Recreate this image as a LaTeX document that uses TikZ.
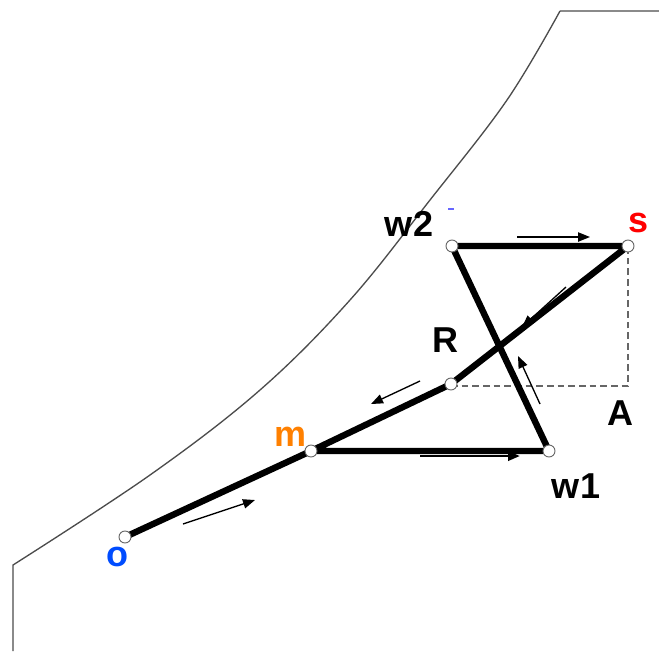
\documentclass[tikz,border=0pt]{standalone}
\usepackage{fontspec}
\setmainfont{Liberation Sans}
\usetikzlibrary{arrows.meta}
\begin{document}
\begin{tikzpicture}[x=0.75pt,y=-0.75pt,
  thickseg/.style={line width=4.8pt,line join=round,line cap=round},
  pt/.style={circle,draw=black!60,fill=white,line width=0.7pt,minimum size=9pt,inner sep=0pt},
  hint/.style={line width=1pt,-{Triangle[length=9pt,width=7pt]}},
  lab/.style={font=\bfseries\fontsize{27}{30}\selectfont,inner sep=0pt},
  outline/.style={draw=black!70,line width=1pt}]
\useasboundingbox (0,0) rectangle (659,651);
% outline
\draw[outline] (659,11) -- (560,11)
  plot[smooth,tension=0.6] coordinates {(560,11) (507,100) (430,200) (350,300) (260,390) (150,475) (13,565)}
  -- (13,651);
% points
\coordinate (o) at (125,537);
\coordinate (m) at (311,451);
\coordinate (R) at (451,384);
\coordinate (w1) at (549,451);
\coordinate (w2) at (452,246);
\coordinate (s) at (628,246);
\coordinate (A) at (628,386);
\coordinate (Rd) at (451,386);
% dashed
\draw[dashed,black!60,line width=0.8pt,dash pattern=on 5pt off 3pt] (Rd) -- (A) -- (s);
% thick path
\draw[thickseg] (o) -- (m) -- (R) -- (s) -- (w2) -- (w1) -- (m);
% direction hints
\coordinate (h1a) at (183,524); \coordinate (h1b) at (255,500);
\coordinate (h2a) at (517,237); \coordinate (h2b) at (590,237);
\coordinate (h3a) at (566,287); \coordinate (h3b) at (522,327);
\coordinate (h4a) at (420,381); \coordinate (h4b) at (371,404);
\coordinate (h5a) at (540,404); \coordinate (h5b) at (518,356);
\coordinate (h6a) at (420,456); \coordinate (h6b) at (520,456);
\draw[hint] (h1a) -- (h1b);
\draw[hint] (h2a) -- (h2b);
\draw[hint] (h3a) -- (h3b);
\draw[hint] (h4a) -- (h4b);
\draw[hint] (h5a) -- (h5b);
\draw[hint,line width=2pt] (h6a) -- (h6b);
% point markers
\foreach \p in {o,m,R,w1,w2,s} \node[pt] (c\p) at (\p) {};
% stray blue mark near w2
\coordinate (b1) at (448,209); \coordinate (b2) at (454,209);
\draw[blue!60,line width=0.8pt] (b1) -- (b2);
% labels
\node[lab,text=black] (lw2) at (409,224) {w2};
\node[lab,text=red] (ls) at (638,223) {s};
\node[lab,text=black] (lR) at (445,340) {R};
\node[lab,text=black] (lA) at (620,413) {A};
\node[lab,text=orange] (lm) at (290,437) {m};
\node[lab,text=black] (lw1) at (576,486) {w1};
\node[lab,text=blue!70!cyan] (lo) at (117,557) {o};
\end{tikzpicture}
\end{document}
